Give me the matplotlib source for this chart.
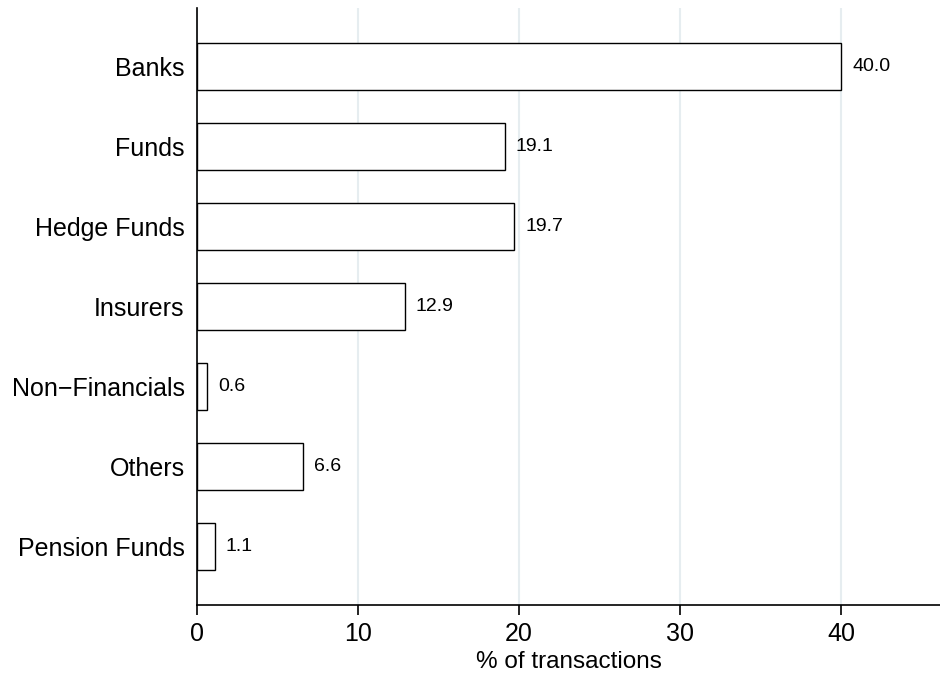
import numpy as np
import matplotlib.pyplot as plt

plt.rcParams['font.family'] = ['Liberation Sans', 'DejaVu Sans']

# data
categories = ['Banks', 'Funds', 'Hedge Funds', 'Insurers',
              'Non\u2212Financials', 'Others', 'Pension Funds']
shares = [40.0, 19.1, 19.7, 12.9, 0.6, 6.6, 1.1]
xticks = [0, 10, 20, 30, 40]

fig = plt.figure(figsize=(9.4, 6.77), dpi=100)
ax = fig.add_axes([0.2096, 0.106, 0.7904, 0.882])

ypos = np.arange(len(categories))
ax.barh(ypos, shares, height=0.59, color='white', edgecolor='black',
        linewidth=1.0, zorder=3)

# value labels to the right of each bar
for y, v in zip(ypos, shares):
    ax.annotate(f'{v:.1f}', xy=(v, y), xytext=(8, 0), textcoords='offset points',
                ha='left', va='center', fontsize=14)

ax.set_yticks(ypos)
ax.set_yticklabels(categories, fontsize=18)
ax.set_xticks(xticks)
ax.set_xticklabels([str(t) for t in xticks], fontsize=18)
ax.set_xlim(0, 46.15)
ax.set_ylim(6.73, -0.73)

ax.set_xlabel('% of transactions', fontsize=17.5, labelpad=4)

# light vertical grid
ax.grid(axis='x', color='#e6edf0', linewidth=1.5, zorder=0)
ax.set_axisbelow(True)

ax.spines['top'].set_visible(False)
ax.spines['right'].set_visible(False)
ax.spines['left'].set_linewidth(1.2)
ax.spines['bottom'].set_linewidth(1.2)
ax.tick_params(axis='y', length=0, pad=9)
ax.tick_params(axis='x', length=7, width=1.2, pad=5)

fig.savefig('out.png', dpi=100)
